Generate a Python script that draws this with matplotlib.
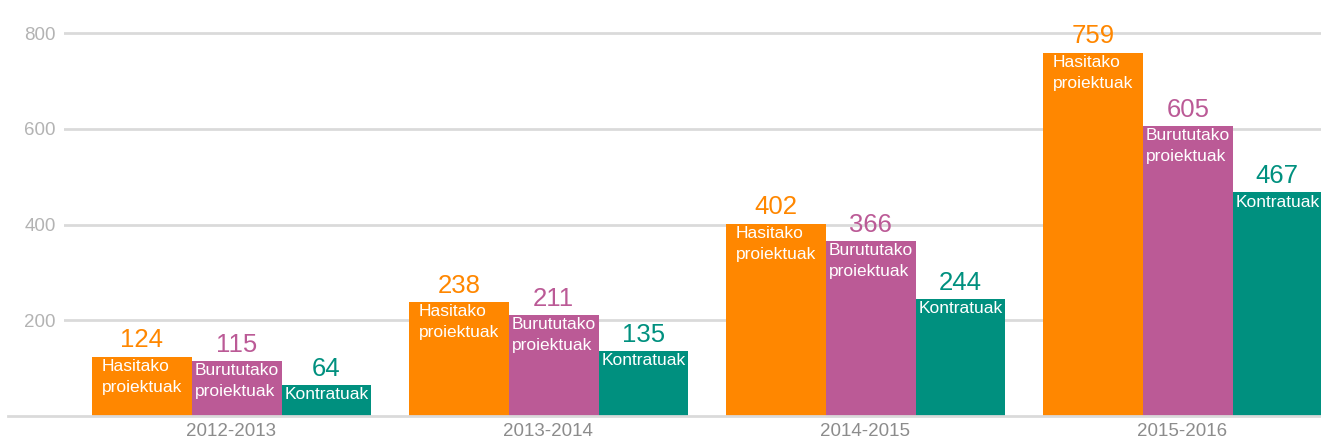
import matplotlib.pyplot as plt
import numpy as np
from matplotlib.lines import Line2D

plt.rcParams['font.family'] = ['Liberation Sans Narrow', 'Liberation Sans', 'DejaVu Sans']

# datuak
years = ['2012-2013', '2013-2014', '2014-2015', '2015-2016']
series = ['Hasitako\nproiektuak', 'Burututako\nproiektuak', 'Kontratuak']
hasitako = [124, 238, 402, 759]
burututako = [115, 211, 366, 605]
kontratuak = [64, 135, 244, 467]
yticks = [200, 400, 600, 800]

colors = ['#ff8700', '#bb5a96', '#00907f']
# Orange, Purple, Teal
widths = [0.315, 0.284, 0.281]

W, H = 1321, 442
fig = plt.figure(figsize=(W / 100, H / 100), dpi=100)
ax = fig.add_axes([64 / W, 26 / H, (W - 64) / W, 416 / H])

x = np.arange(len(years))
offset = 0.0
for vals, name, c, w in zip([hasitako, burututako, kontratuak], series, colors, widths):
    left = x + offset
    ax.bar(left, vals, width=w, align='edge', color=c, zorder=3)
    for xl, v in zip(left, vals):
        ax.annotate(str(v), (xl + w / 2, v), xytext=(0, 3), textcoords='offset points',
                    ha='center', va='bottom', color=c, fontsize=18.5, zorder=4)
        ax.annotate(name, (xl + w / 2, v), xytext=(0, -1.5), textcoords='offset points',
                    ha='center', va='top', multialignment='left', color='white',
                    fontsize=12.5, linespacing=1.5, zorder=4)
    offset += w

total = sum(widths)
ax.set_xlim(-0.088, -0.088 + (W - 64) / 317)
ax.set_ylim(0, 869)
ax.set_yticks(yticks)
ax.set_yticklabels([str(t) for t in yticks], color='#b3b3b3', fontsize=13.5)
ax.set_xticks(x + total / 2)
ax.set_xticklabels(years, color='#8c8c8c', fontsize=13.5)
ax.tick_params(axis='both', length=0)
ax.tick_params(axis='y', pad=6)
ax.tick_params(axis='x', pad=5)
ax.yaxis.grid(True, color='#dadada', linewidth=2, zorder=0)
for s in ax.spines.values():
    s.set_visible(False)

# baseline reaches further left than the grid
fig.add_artist(Line2D([8 / W, 1], [26 / H, 26 / H], color='#dadada', linewidth=2,
                      transform=fig.transFigure))

fig.savefig('out.png', dpi=100)
